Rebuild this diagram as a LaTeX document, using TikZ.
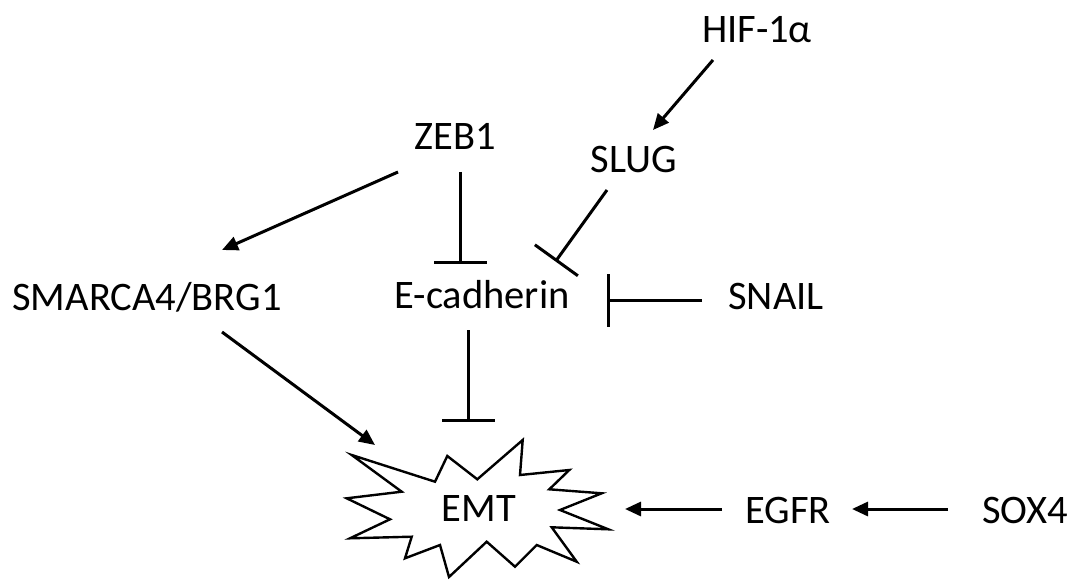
\documentclass[tikz,border=0pt]{standalone}
\usepackage{fontspec}
\setmainfont{Carlito}
\usetikzlibrary{arrows.meta,calc}
\begin{document}
\begin{tikzpicture}[x=1pt,y=-1pt,
  lab/.style={inner sep=0pt,text height=26pt,text depth=0pt,font=\fontsize{40.5}{48}\selectfont},
  act/.style={line width=3pt,-{Triangle[length=16pt,width=14pt]}},
  inh/.style={line width=3pt,-{Bar[width=53pt,line width=3pt]}},
  burst/.style={line width=2.4pt,line join=miter}]
\useasboundingbox[fill=white] (0,0) rectangle (1070,580);
\node[lab] (hif) at (757,30) {HIF-1α};
\node[lab] (zeb1) at (455,137) {ZEB1};
\node[lab] (slug) at (634,160) {SLUG};
\node[lab] (smarca) at (147,297) {SMARCA4/BRG1};
\node[lab] (ecad) at (482,295) {E-cadherin};
\node[lab] (snail) at (776,296) {SNAIL};
\node[lab] (emt) at (479,508) {EMT};
\node[lab] (egfr) at (788,510) {EGFR};
\node[lab] (sox4) at (1025,510) {SOX4};
\begin{scope}[shift={(emt.center)}]
\draw[burst] (-127.3,-53) -- (-44,-26.3) -- (-31.7,-52) -- (-1.7,-28.7) -- (43.7,-68) -- (41,-33) -- (90.3,-38) -- (70.3,-18.7) -- (122.7,-14.7) -- (81,2) -- (129.3,21.3) -- (72.7,19.3) -- (97.7,53.7) -- (57.7,37) -- (36,58.7) -- (7.7,33.7) -- (-30,69) -- (-39,37) -- (-74,50.3) -- (-67.3,28.7) -- (-129,30.3) -- (-89,11.3) -- (-132.3,-9.7) -- (-77.3,-16.3) -- cycle;
\end{scope}
\draw[act] ($(hif)+(-44,30)$) -- ($(slug)+(19,-30)$);
\draw[act] ($(zeb1)+(-57,35)$) -- ($(smarca)+(75,-47)$);
\draw[inh] ($(zeb1)+(5,35)$) -- ($(ecad)+(-22,-31)$);
\draw[inh] ($(slug)+(-27,30)$) -- ($(ecad)+(73.5,-33.5)$);
\draw[inh] ($(snail)+(-74,4)$) -- ($(ecad)+(125,5)$);
\draw[act] ($(smarca)+(75,35)$) -- ($(emt)+(-104,-63)$);
\draw[inh] ($(ecad)+(-14,35)$) -- ($(emt)+(-11,-86)$);
\draw[act] ($(egfr)+(-66,-1)$) -- ($(emt)+(146,1)$);
\draw[act] ($(sox4)+(-77,-1)$) -- ($(egfr)+(64,-1)$);
\end{tikzpicture}
\end{document}
